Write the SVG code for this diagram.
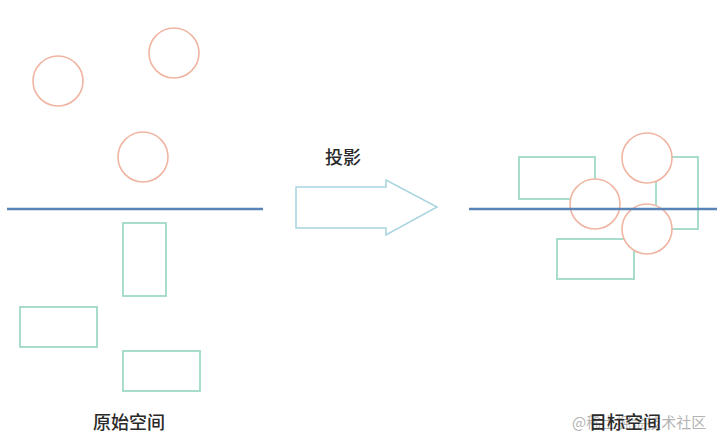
<svg xmlns="http://www.w3.org/2000/svg" width="720" height="446" viewBox="0 0 720 446">
<style>
.c{fill:#fff;stroke:#f0b4a2;stroke-width:1.6}
.r{fill:none;stroke:#9fd9c6;stroke-width:1.8}
.ln{stroke:#5a84b6;stroke-width:2.5}
.t{font-family:"Noto Sans CJK SC","Noto Sans",sans-serif;font-size:18px;font-weight:500;fill:#2a2a2a;text-anchor:middle}
.w{font-family:"Noto Sans CJK SC","Noto Sans",sans-serif;font-size:15px;fill:#b4b4b4;text-anchor:start}
</style>
<rect width="720" height="446" fill="#fff"/>
<g id="original">
  <g id="orig-circle-1"><circle class="c" cx="58" cy="81" r="25"/></g>
  <g id="orig-circle-2"><circle class="c" cx="174" cy="53" r="25"/></g>
  <g id="orig-circle-3"><circle class="c" cx="143" cy="157" r="25"/></g>
  <g id="orig-line"><line class="ln" x1="7" y1="209" x2="263" y2="209"/></g>
  <g id="orig-rect-1"><rect class="r" x="123" y="223" width="43" height="73"/></g>
  <g id="orig-rect-2"><rect class="r" x="20" y="307" width="77" height="40"/></g>
  <g id="orig-rect-3"><rect class="r" x="123" y="351" width="77" height="40"/></g>
  <text class="t" x="129" y="429">原始空间</text>
</g>
<g id="connectors">
  <polygon points="296,187 386,187 386,180 437,207 386,235 386,228 296,228" fill="none" stroke="#a9d4e0" stroke-width="1.5"/>
</g>
<g id="projection-label"><text class="t" x="343" y="164">投影</text></g>
<g id="target">
  <g id="tgt-rect-a"><rect class="r" x="519" y="157" width="76" height="42"/></g>
  <g id="tgt-rect-b"><rect class="r" x="656" y="157" width="42" height="72"/></g>
  <g id="tgt-rect-c"><rect class="r" x="557" y="239" width="77" height="40"/></g>
  <g id="tgt-circle-1"><circle class="c" cx="647" cy="158" r="25"/></g>
  <g id="tgt-circle-2"><circle class="c" cx="595" cy="204" r="25"/></g>
  <g id="tgt-circle-3"><circle class="c" cx="647" cy="229" r="25"/></g>
  <g id="tgt-line"><line class="ln" x1="469" y1="209" x2="717" y2="209"/></g>
  <text class="w" x="572" y="428">@稀土掘金技术社区</text>
  <text class="t" x="625" y="429">目标空间</text>
</g>
</svg>
